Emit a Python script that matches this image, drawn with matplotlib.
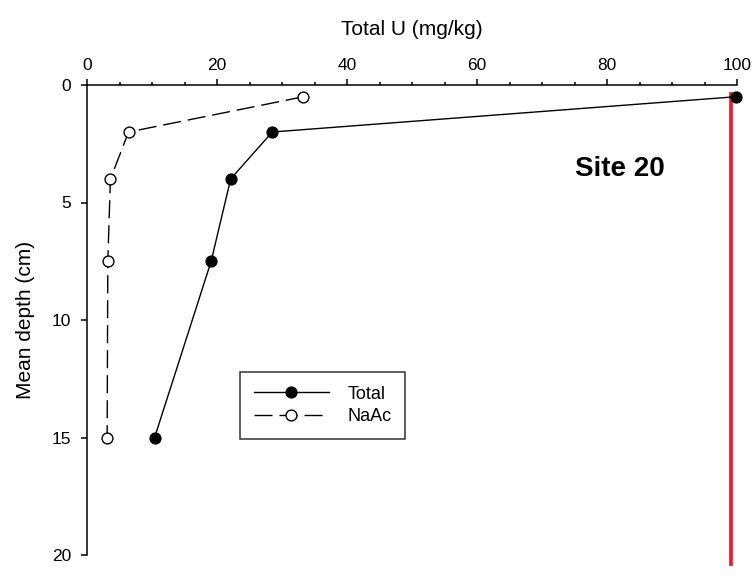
import matplotlib
matplotlib.use("Agg")
import matplotlib.pyplot as plt
from matplotlib.ticker import MultipleLocator

plt.rcParams['font.family'] = ['Liberation Sans', 'DejaVu Sans']

depth = [0.5, 2, 4, 7.5, 15]
total_u = [99.8, 28.5, 22.1, 19.1, 10.4]
naac_u = [33.3, 6.4, 3.6, 3.2, 3.1]
red_x = 99.1
red_y = [0.4, 20.4]

fig = plt.figure(figsize=(7.54, 5.76), dpi=100)
ax = fig.add_axes([87/754, 21/576, 650/754, 470/576])

ax.plot(total_u, depth, color='black', lw=1, marker='o', ms=7.8,
        mfc='black', mec='black', label='Total', clip_on=False, zorder=3)
ax.plot(naac_u, depth, color='black', lw=1, ls=(0, (13, 5)), marker='o', ms=7.8,
        mfc='white', mec='black', mew=1, label='NaAc', clip_on=False, zorder=3)
ax.plot([red_x, red_x], red_y, color='#ee1c2e', lw=2.7, clip_on=False, zorder=2)

ax.set_xlim(0, 100)
ax.set_ylim(20, 0)
ax.xaxis.tick_top()
ax.xaxis.set_label_position('top')
ax.set_xticks([0, 20, 40, 60, 80, 100])
ax.xaxis.set_minor_locator(MultipleLocator(5))
ax.set_yticks([0, 5, 10, 15, 20])
for s in ['right', 'bottom']:
    ax.spines[s].set_visible(False)
for s in ['left', 'top']:
    ax.spines[s].set_linewidth(1.1)
ax.tick_params(axis='both', which='major', direction='out', length=4.5, width=1.1,
               labelsize=12.5)
ax.tick_params(axis='x', which='major', pad=4.5)
ax.tick_params(axis='y', which='major', pad=7)
ax.tick_params(axis='x', which='minor', direction='out', length=2.5, width=1.1)
ax.set_xlabel('Total U (mg/kg)', fontsize=15, labelpad=16)
ax.set_ylabel('Mean depth (cm)', fontsize=15, labelpad=12)

ax.text(0.82, 0.806, 'Site 20', transform=ax.transAxes, fontsize=20,
        fontweight='bold', ha='center', va='baseline')

leg = ax.legend(loc='upper left', bbox_to_anchor=((240-87)/650, 1-(372-85)/470),
                frameon=True, fancybox=False, edgecolor='black', fontsize=13,
                handlelength=4.2, borderpad=0.75, labelspacing=0.3, handletextpad=1.0,
                borderaxespad=0)
leg.get_frame().set_linewidth(1.1)

fig.savefig('out.png', dpi=100)
